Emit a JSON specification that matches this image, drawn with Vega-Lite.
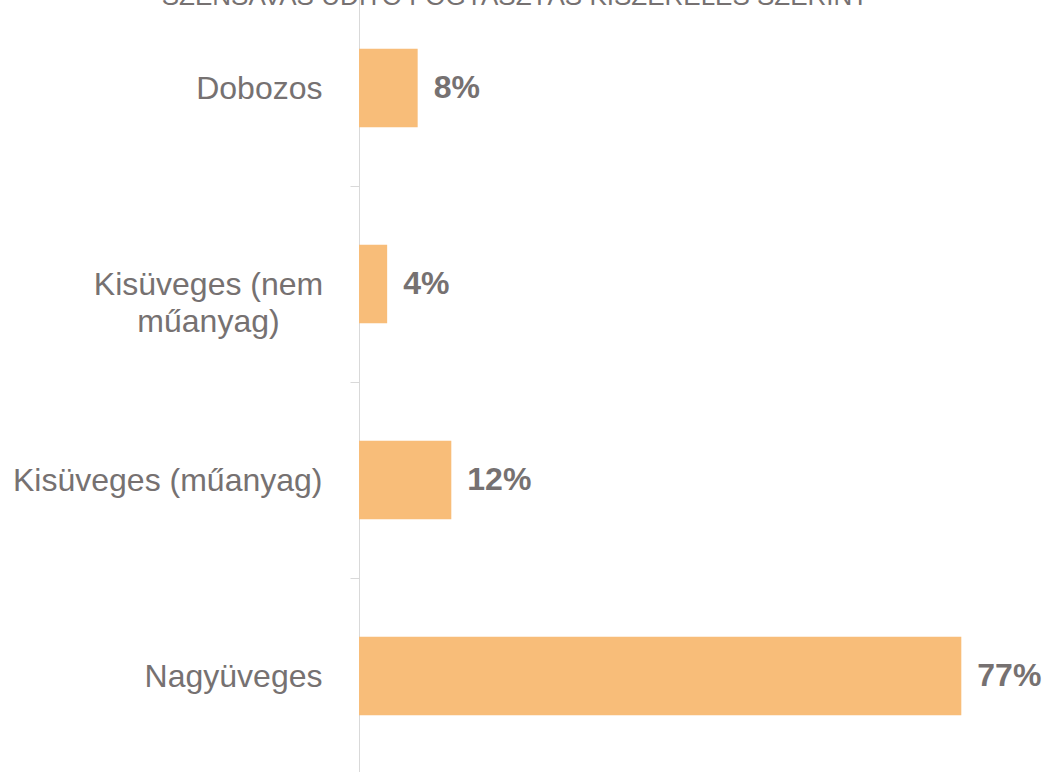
{
  "$schema": "https://vega.github.io/schema/vega-lite/v6.json",
  "autosize": {"type": "none"},
  "width": 704,
  "height": 772,
  "padding": {"top": 0, "left": 359, "right": 0, "bottom": 0},
  "background": "white",
  "title": {
    "text": "SZÉNSAVAS ÜDÍTŐ FOGYASZTÁS KISZERELÉS SZERINT",
    "anchor": "middle",
    "frame": "group",
    "dx": -196,
    "offset": -52,
    "baseline": "bottom",
    "font": "Liberation Sans",
    "fontSize": 26,
    "fontWeight": "normal",
    "color": "#767171"
  },
  "data": {
    "values": [
      {"kategoria": "Dobozos", "ertek": 7.5, "cimke": "8%"},
      {"kategoria": "Kisüveges (nem műanyag)", "ertek": 3.6, "cimke": "4%"},
      {"kategoria": "Kisüveges (műanyag)", "ertek": 11.8, "cimke": "12%"},
      {"kategoria": "Nagyüveges", "ertek": 77, "cimke": "77%"}
    ]
  },
  "encoding": {
    "y": {
      "field": "kategoria",
      "type": "nominal",
      "sort": null,
      "scale": {"paddingInner": 0, "paddingOuter": 0, "range": [-10, 774]},
      "axis": {
        "title": null,
        "domainColor": "#d9d9d9",
        "domainWidth": 1,
        "tickColor": "#d9d9d9",
        "tickSize": 9,
        "tickBand": "extent",
        "labelFont": "Liberation Sans",
        "labelFontSize": 32,
        "labelColor": "#767171",
        "labelLineHeight": 37,
        "labelLimit": 400,
        "labelExpr": "datum.value === 'Kisüveges (nem műanyag)' ? ['Kisüveges (nem', 'műanyag)'] : datum.value",
        "labelAlign": {"condition": {"test": "datum.value === 'Kisüveges (nem műanyag)'", "value": "center"}, "value": "right"},
        "labelPadding": {"condition": {"test": "datum.value === 'Kisüveges (nem műanyag)'", "value": 142}, "value": 28}
      }
    },
    "x": {
      "field": "ertek",
      "type": "quantitative",
      "scale": {"domain": [0, 90]},
      "axis": null
    }
  },
  "layer": [
    {"mark": {"type": "bar", "color": "#F8BD79", "height": {"band": 0.4}}},
    {
      "mark": {
        "type": "text",
        "align": "left",
        "baseline": "middle",
        "dx": 16,
        "font": "Liberation Sans",
        "fontSize": 32,
        "fontWeight": "bold",
        "color": "#767171"
      },
      "encoding": {"text": {"field": "cimke"}}
    }
  ],
  "config": {"view": {"stroke": null}}
}
